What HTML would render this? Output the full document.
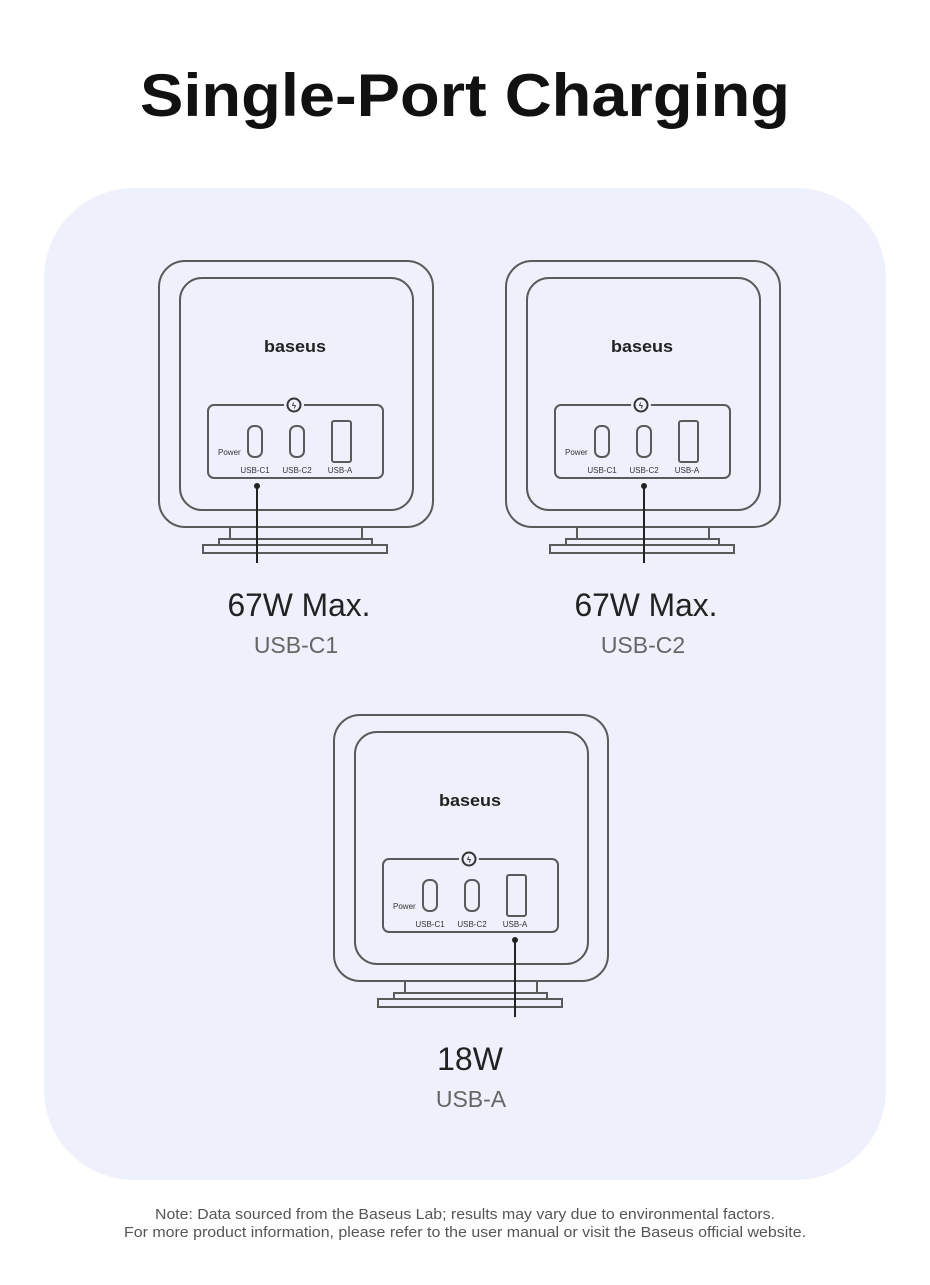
<!DOCTYPE html>
<html><head><meta charset="utf-8"><style>
html,body{margin:0;padding:0;background:#fff;}
svg{display:block;font-family:"Liberation Sans",sans-serif;}
</style></head><body>
<svg width="930" height="1285" viewBox="0 0 930 1285" xmlns="http://www.w3.org/2000/svg">
<rect width="930" height="1285" fill="#fff"/>
<text x="465" y="116" text-anchor="middle" font-size="60" font-weight="bold" fill="#111" textLength="650" lengthAdjust="spacingAndGlyphs">Single-Port Charging</text>
<rect x="44" y="188" width="842" height="992" rx="90" fill="#eef1fc"/>

<!-- charger 1 -->
<g fill="none" stroke="#5a5a5a" stroke-width="2">
<rect x="159" y="261" width="274" height="266" rx="26"/>
<rect x="180" y="278" width="233" height="232" rx="22"/>
<path d="M230 527V539M362 527V539"/>
<rect x="219" y="539" width="153" height="6"/>
<rect x="203" y="545" width="184" height="8"/>
<rect x="208" y="405" width="175" height="73" rx="6"/>
<rect x="248" y="426" width="14" height="31" rx="6"/>
<rect x="290" y="426" width="14" height="31" rx="6"/>
<rect x="332" y="421" width="19" height="41" rx="2"/>
</g>
<circle cx="294" cy="405" r="10" fill="#eef1fc"/>
<circle cx="294" cy="405" r="6.5" fill="none" stroke="#333" stroke-width="2"/>
<text x="294" y="408.5" text-anchor="middle" font-size="8" font-weight="bold" fill="#333">ϟ</text>
<text x="295" y="352" text-anchor="middle" font-size="17" font-weight="bold" fill="#222" textLength="62" lengthAdjust="spacingAndGlyphs">baseus</text>
<text x="218" y="455" font-size="8" fill="#333">Power</text>
<text x="255" y="473" text-anchor="middle" font-size="8" fill="#333">USB-C1</text>
<text x="297" y="473" text-anchor="middle" font-size="8" fill="#333">USB-C2</text>
<text x="340" y="473" text-anchor="middle" font-size="8" fill="#333">USB-A</text>
<circle cx="257" cy="486" r="3" fill="#222"/>
<line x1="257" y1="486" x2="257" y2="563" stroke="#222" stroke-width="2"/>
<text x="299" y="616" text-anchor="middle" font-size="32" fill="#222" textLength="143" lengthAdjust="spacingAndGlyphs">67W Max.</text>
<text x="296" y="653" text-anchor="middle" font-size="23" fill="#666">USB-C1</text>

<!-- charger 2 -->
<g transform="translate(347,0)">
<g fill="none" stroke="#5a5a5a" stroke-width="2">
<rect x="159" y="261" width="274" height="266" rx="26"/>
<rect x="180" y="278" width="233" height="232" rx="22"/>
<path d="M230 527V539M362 527V539"/>
<rect x="219" y="539" width="153" height="6"/>
<rect x="203" y="545" width="184" height="8"/>
<rect x="208" y="405" width="175" height="73" rx="6"/>
<rect x="248" y="426" width="14" height="31" rx="6"/>
<rect x="290" y="426" width="14" height="31" rx="6"/>
<rect x="332" y="421" width="19" height="41" rx="2"/>
</g>
<circle cx="294" cy="405" r="10" fill="#eef1fc"/>
<circle cx="294" cy="405" r="6.5" fill="none" stroke="#333" stroke-width="2"/>
<text x="294" y="408.5" text-anchor="middle" font-size="8" font-weight="bold" fill="#333">ϟ</text>
<text x="295" y="352" text-anchor="middle" font-size="17" font-weight="bold" fill="#222" textLength="62" lengthAdjust="spacingAndGlyphs">baseus</text>
<text x="218" y="455" font-size="8" fill="#333">Power</text>
<text x="255" y="473" text-anchor="middle" font-size="8" fill="#333">USB-C1</text>
<text x="297" y="473" text-anchor="middle" font-size="8" fill="#333">USB-C2</text>
<text x="340" y="473" text-anchor="middle" font-size="8" fill="#333">USB-A</text>
<circle cx="297" cy="486" r="3" fill="#222"/>
<line x1="297" y1="486" x2="297" y2="563" stroke="#222" stroke-width="2"/>
<text x="299" y="616" text-anchor="middle" font-size="32" fill="#222" textLength="143" lengthAdjust="spacingAndGlyphs">67W Max.</text>
<text x="296" y="653" text-anchor="middle" font-size="23" fill="#666">USB-C2</text>
</g>

<!-- charger 3 -->
<g transform="translate(175,454)">
<g fill="none" stroke="#5a5a5a" stroke-width="2">
<rect x="159" y="261" width="274" height="266" rx="26"/>
<rect x="180" y="278" width="233" height="232" rx="22"/>
<path d="M230 527V539M362 527V539"/>
<rect x="219" y="539" width="153" height="6"/>
<rect x="203" y="545" width="184" height="8"/>
<rect x="208" y="405" width="175" height="73" rx="6"/>
<rect x="248" y="426" width="14" height="31" rx="6"/>
<rect x="290" y="426" width="14" height="31" rx="6"/>
<rect x="332" y="421" width="19" height="41" rx="2"/>
</g>
<circle cx="294" cy="405" r="10" fill="#eef1fc"/>
<circle cx="294" cy="405" r="6.5" fill="none" stroke="#333" stroke-width="2"/>
<text x="294" y="408.5" text-anchor="middle" font-size="8" font-weight="bold" fill="#333">ϟ</text>
<text x="295" y="352" text-anchor="middle" font-size="17" font-weight="bold" fill="#222" textLength="62" lengthAdjust="spacingAndGlyphs">baseus</text>
<text x="218" y="455" font-size="8" fill="#333">Power</text>
<text x="255" y="473" text-anchor="middle" font-size="8" fill="#333">USB-C1</text>
<text x="297" y="473" text-anchor="middle" font-size="8" fill="#333">USB-C2</text>
<text x="340" y="473" text-anchor="middle" font-size="8" fill="#333">USB-A</text>
<circle cx="340" cy="486" r="3" fill="#222"/>
<line x1="340" y1="486" x2="340" y2="563" stroke="#222" stroke-width="2"/>
<text x="295" y="616" text-anchor="middle" font-size="32" fill="#222">18W</text>
<text x="296" y="653" text-anchor="middle" font-size="23" fill="#666">USB-A</text>
</g>

<text x="465" y="1219" text-anchor="middle" font-size="15" fill="#555" textLength="620" lengthAdjust="spacingAndGlyphs">Note: Data sourced from the Baseus Lab; results may vary due to environmental factors.</text>
<text x="465" y="1237" text-anchor="middle" font-size="15" fill="#555" textLength="682" lengthAdjust="spacingAndGlyphs">For more product information, please refer to the user manual or visit the Baseus official website.</text>
</svg>
</body></html>
